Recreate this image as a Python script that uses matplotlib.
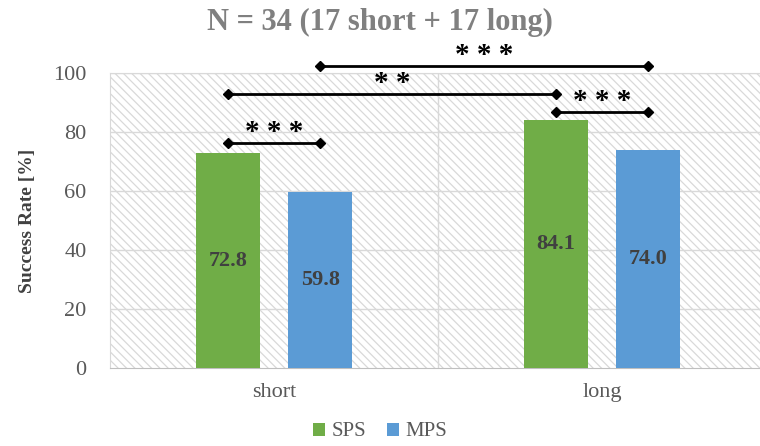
import matplotlib
matplotlib.use("Agg")
import matplotlib.pyplot as plt
from matplotlib.patches import Rectangle
import numpy as np

# data
categories = ["short", "long"]
sps_values = [72.8, 84.1]
mps_values = [59.8, 74.0]
series_names = ["SPS", "MPS"]
title_text = "N = 34 (17 short + 17 long)"

# significance brackets: (bar from, bar to, bracket height, stars)
brackets = [
    (0, 1, 76.3, "* * *"),     # short SPS vs short MPS
    (2, 3, 86.8, "* * *"),     # long SPS vs long MPS
    (0, 2, 92.9, "* *"),       # short SPS vs long SPS
    (1, 3, 102.4, "* * *"),    # short MPS vs long MPS
]

plt.rcParams['font.family'] = ['Liberation Serif', 'DejaVu Serif']
plt.rcParams['hatch.color'] = '#d9d9d9'
plt.rcParams['hatch.linewidth'] = 0.9

fig = plt.figure(figsize=(7.6, 4.46), dpi=100)
ax = fig.add_axes([110 / 760, 1 - 368 / 446, 656 / 760, 295 / 446])

x = np.arange(len(categories))
offset = 0.141
width = 0.195
green = '#70ad47'
blue = '#5b9bd5'

# hatched background
ax.add_patch(Rectangle((0, 0), 1, 1, transform=ax.transAxes, facecolor='white',
                       edgecolor='#d9d9d9', hatch='\\\\\\\\', lw=0, zorder=0))

ax.set_ylim(0, 100)
ax.set_xlim(-0.5, 1.5)
ax.set_yticks(np.arange(0, 101, 20))
for yv in np.arange(20, 101, 20):
    ax.axhline(yv, color='#d9d9d9', lw=1.0, zorder=1)
ax.axvline(0.5, color='#d9d9d9', lw=1.0, zorder=1)

b1 = ax.bar(x - offset, sps_values, width, color=green, zorder=3, label=series_names[0])
b2 = ax.bar(x + offset, mps_values, width, color=blue, zorder=3, label=series_names[1])

for bars, vals in ((b1, sps_values), (b2, mps_values)):
    for rect, v in zip(bars, vals):
        ax.text(rect.get_x() + rect.get_width() / 2, v / 2, f"{v:.1f}",
                ha='center', va='center', fontsize=16, fontweight='bold',
                color='#404040', zorder=4)

# bar centres in order: short SPS, short MPS, long SPS, long MPS
centres = [x[0] - offset, x[0] + offset, x[1] - offset, x[1] + offset]
for i0, i1, yb, stars in brackets:
    xa, xb = centres[i0], centres[i1]
    ax.plot([xa, xb], [yb, yb], color='black', lw=2, marker='D', markersize=5.5,
            clip_on=False, zorder=5)
    ax.text((xa + xb) / 2, yb + 3.4, stars, ha='center', va='center',
            fontsize=21, fontweight='bold', color='black', clip_on=False)

for side in ['top', 'right', 'left']:
    ax.spines[side].set_color('#d9d9d9')
ax.spines['bottom'].set_color('#bfbfbf')
ax.tick_params(length=0, labelsize=16, colors='#595959')
ax.tick_params(axis='y', pad=17)
ax.tick_params(axis='x', pad=11)
ax.set_xticks(x)
ax.set_xticklabels(categories)

ax.set_ylabel("Success Rate [%]", fontsize=14, fontweight='bold', color='#404040',
              labelpad=12)
fig.text(0.5, 1 - 22 / 446, title_text, ha='center', va='center', fontsize=22,
         fontweight='bold', color='#808080')

fig.legend(handles=[b1, b2], labels=series_names, loc='center',
           bbox_to_anchor=(0.5, 1 - 432 / 446), ncol=2, frameon=False,
           fontsize=15, labelcolor='#595959', handlelength=0.6, handleheight=0.6,
           handletextpad=0.3, columnspacing=1.0)

fig.savefig("out.png", dpi=100)
